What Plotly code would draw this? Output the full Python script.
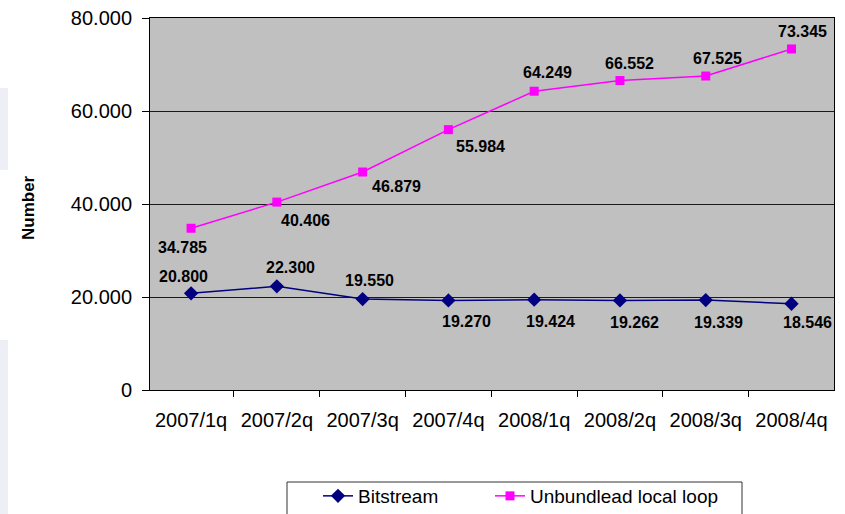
import plotly.graph_objects as go

categories = ["2007/1q", "2007/2q", "2007/3q", "2007/4q", "2008/1q", "2008/2q", "2008/3q", "2008/4q"]
bitstream = [20800, 22300, 19550, 19270, 19424, 19262, 19339, 18546]
ull = [34785, 40406, 46879, 55984, 64249, 66552, 67525, 73345]

# label offsets in pixels (x, y) relative to each point
ull_off = [(-9, -19), (29, -18), (34, -14), (32, -17), (13, 19), (10, 17), (12, 18), (11, 17)]
bit_off = [(-8, 17), (14, 19), (7, 19), (18, -21), (16, -22), (15, -22), (13, -22), (16, -19)]

def fmt(v):
    return f"{v:,}".replace(",", ".")

fig = go.Figure()
fig.add_trace(go.Scatter(
    x=categories, y=bitstream, name="Bitstream", mode="lines+markers",
    line=dict(color="#000080", width=1.5),
    marker=dict(symbol="diamond", size=11, color="#000080"),
    legend="legend",
))
fig.add_trace(go.Scatter(
    x=categories, y=ull, name="Unbundlead local loop", mode="lines+markers",
    line=dict(color="#ff00ff", width=1.5),
    marker=dict(symbol="square", size=9, color="#ff00ff"),
    legend="legend2",
))

annotations = []
for series, offs in ((ull, ull_off), (bitstream, bit_off)):
    for c, v, (dx, dy) in zip(categories, series, offs):
        annotations.append(dict(
            x=c, y=v, xref="x", yref="y", text=fmt(v), showarrow=False,
            xshift=dx, yshift=dy,
            font=dict(family="Liberation Sans, Arial, sans-serif", size=16, color="black", weight="bold"),
        ))
annotations.append(dict(
    x=(28 - 150) / 684, y=(390 - 208) / 372, xref="paper", yref="paper",
    text="<b>Number</b>", showarrow=False, textangle=-90,
    xanchor="center", yanchor="middle",
    font=dict(family="Liberation Sans, Arial, sans-serif", size=17, color="black"),
))

def px(xp):
    return (xp - 150) / 684

def py(yp):
    return (390 - yp) / 372

shapes = [
    dict(type="rect", xref="paper", yref="paper",
         x0=px(0), x1=px(8), y0=py(170), y1=py(88),
         fillcolor="#eeeef6", line=dict(width=0), layer="below"),
    dict(type="rect", xref="paper", yref="paper",
         x0=px(0), x1=px(8), y0=py(514), y1=py(340),
         fillcolor="#eeeef6", line=dict(width=0), layer="below"),
    # legend frame
    dict(type="rect", xref="paper", yref="paper",
         x0=px(287), x1=px(742), y0=py(540), y1=py(482),
         fillcolor="white", line=dict(color="#333333", width=1), layer="above"),
]

legend_common = dict(
    orientation="h", xanchor="left", y=py(477), yanchor="top",
    borderwidth=0, bgcolor="rgba(0,0,0,0)", font=dict(size=19), indentation=16,
)

fig.update_layout(
    width=845, height=514,
    margin=dict(l=150, r=11, t=18, b=124, autoexpand=False),
    paper_bgcolor="white", plot_bgcolor="#c0c0c0",
    separators=",.",
    font=dict(family="Liberation Sans, Arial, sans-serif", size=20, color="black"),
    showlegend=True,
    legend=dict(x=px(302), **legend_common),
    legend2=dict(x=px(474), **legend_common),
    annotations=annotations,
    shapes=shapes,
)
fig.update_xaxes(
    type="category", showgrid=False, tickson="boundaries", ticks="outside",
    ticklen=6, tickcolor="black", showline=True, linecolor="black", linewidth=1,
    mirror=True, ticklabelstandoff=12,
)
fig.update_yaxes(
    range=[0, 80000], tickvals=[0, 20000, 40000, 60000, 80000], tickformat=",d",
    showgrid=True, gridcolor="#1a1a1a", gridwidth=1, ticks="outside", ticklen=7,
    tickcolor="black", showline=True, linecolor="black", linewidth=1, mirror=True,
    zeroline=False, ticklabelstandoff=6,
)

fig.write_html("out.html")
